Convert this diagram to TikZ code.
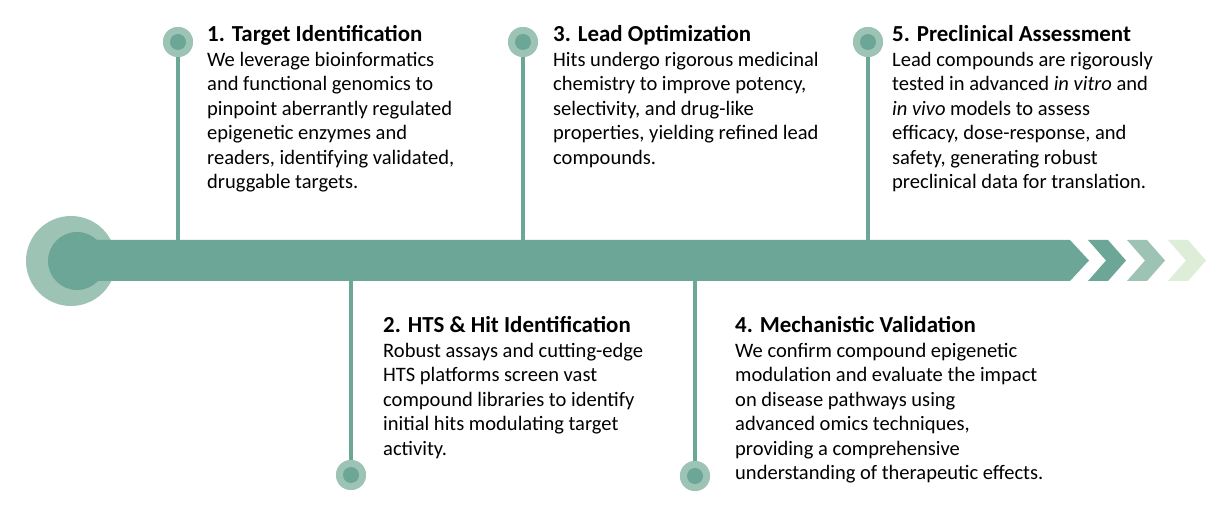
\documentclass[tikz,border=0pt]{standalone}
\usepackage{fontspec}
\setmainfont{Carlito}
\definecolor{teal1}{HTML}{6BA696}
\definecolor{teal2}{HTML}{9DC3B4}
\definecolor{teal3}{HTML}{DDEDD8}
\newcommand\ttl[1]{{\fontsize{23}{24.5}\selectfont\bfseries #1}}
\begin{document}
\begin{tikzpicture}[x=1bp,y=-1bp,
  vline/.style={draw=teal1,line width=3.5bp},
  dotouter/.style={circle,fill=teal2,minimum size=30bp,inner sep=0pt},
  dotinner/.style={circle,fill=teal1,minimum size=16bp,inner sep=0pt},
  blocktext/.style={anchor=base west,inner sep=0pt,font=\fontsize{20.6}{24.5}\selectfont,text=black}]
\useasboundingbox (0,0) rectangle (1219,517);
\fill[white] (0,0) rectangle (1219,517);
% start circle
\fill[teal2] (71,261) circle (45);
\fill[teal1] (77,261) circle (29);
% bar
\fill[teal1] (77,240) -- (1070,240) -- (1089,260.5) -- (1070,281) -- (77,281) -- cycle;
% chevrons
\foreach \x/\c in {1088/teal1,1127/teal2,1168/teal3}{
  \fill[\c] (\x,240) -- (\x+20,240) -- (\x+38,260.5) -- (\x+20,281) -- (\x,281) -- (\x+18,260.5) -- cycle;
}
% vertical connectors and dots
\coordinate (b1) at (178,240);
\coordinate (b2) at (351,281);
\coordinate (b3) at (523,240);
\coordinate (b4) at (695,281);
\coordinate (b5) at (868,240);
\node[dotouter] (d1) at (178,42) {};
\node[dotouter] (d2) at (351,475) {};
\node[dotouter] (d3) at (523,42) {};
\node[dotouter] (d4) at (695,476) {};
\node[dotouter] (d5) at (868,42) {};
\foreach \i in {1,...,5}{
  \draw[vline] (d\i.center) -- (b\i);
}
\foreach \i in {1,...,5}{
  \node[dotouter] at (d\i) {};
  \node[dotinner] at (d\i) {};
}
% texts
\node[blocktext] (t1) at (207,42) {\begin{tabular}[t]{@{}l@{}}
\ttl{1. Target Identification}\\
We leverage bioinformatics\\
and functional genomics to\\
pinpoint aberrantly regulated\\
epigenetic enzymes and\\
readers, identifying validated,\\
druggable targets.
\end{tabular}};
\node[blocktext] (t2) at (383,333) {\begin{tabular}[t]{@{}l@{}}
\ttl{2. HTS \& Hit Identification}\\
Robust assays and cutting-edge\\
HTS platforms screen vast\\
compound libraries to identify\\
initial hits modulating target\\
activity.
\end{tabular}};
\node[blocktext] (t3) at (553,42) {\begin{tabular}[t]{@{}l@{}}
\ttl{3. Lead Optimization}\\
Hits undergo rigorous medicinal\\
chemistry to improve potency,\\
selectivity, and drug-like\\
properties, yielding refined lead\\
compounds.
\end{tabular}};
\node[blocktext] (t4) at (735,333) {\begin{tabular}[t]{@{}l@{}}
\ttl{4. Mechanistic Validation}\\
We confirm compound epigenetic\\
modulation and evaluate the impact\\
on disease pathways using\\
advanced omics techniques,\\
providing a comprehensive\\
understanding of therapeutic effects.
\end{tabular}};
\node[blocktext] (t5) at (892,42) {\begin{tabular}[t]{@{}l@{}}
\ttl{5. Preclinical Assessment}\\
Lead compounds are rigorously\\
tested in advanced \textit{in vitro} and\\
\textit{in vivo} models to assess\\
efficacy, dose-response, and\\
safety, generating robust\\
preclinical data for translation.
\end{tabular}};
\end{tikzpicture}
\end{document}
